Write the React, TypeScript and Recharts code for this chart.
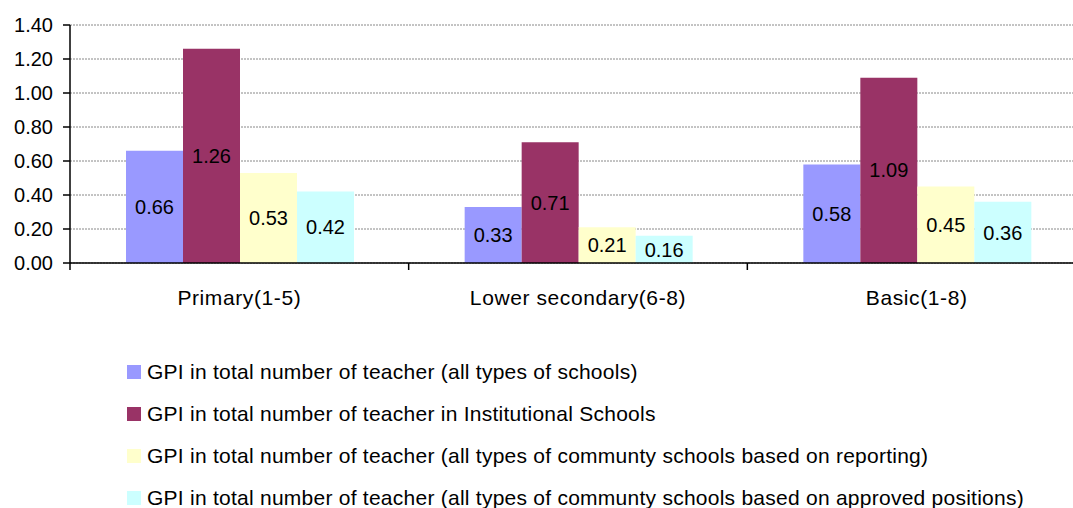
import { BarChart, Bar, XAxis, YAxis, CartesianGrid, Legend, LabelList } from 'recharts';

const CATEGORIES = ['Primary(1-5)', 'Lower secondary(6-8)', 'Basic(1-8)'];

const ALL_SCHOOLS = [0.66, 0.33, 0.58];
const INSTITUTIONAL = [1.26, 0.71, 1.09];
const COMMUNITY_REPORTING = [0.53, 0.21, 0.45];
const COMMUNITY_APPROVED = [0.42, 0.16, 0.36];

const Y_TICKS = [0, 0.2, 0.4, 0.6, 0.8, 1.0, 1.2, 1.4];

const SERIES = [
  { key: 'all', name: 'GPI in total number of teacher (all types of schools)', color: '#9999FF', values: ALL_SCHOOLS },
  { key: 'inst', name: 'GPI in total number of teacher in Institutional Schools', color: '#993366', values: INSTITUTIONAL },
  { key: 'rep', name: 'GPI in total number of teacher (all types of communty schools based on reporting)', color: '#FFFFCC', values: COMMUNITY_REPORTING },
  { key: 'app', name: 'GPI in total number of teacher (all types of communty schools based on approved positions)', color: '#CCFFFF', values: COMMUNITY_APPROVED },
];

const chartData = CATEGORIES.map((category, i) => {
  const row: Record<string, string | number> = { category };
  SERIES.forEach((s) => {
    row[s.key] = s.values[i];
  });
  return row;
});

const FONT = '"Liberation Sans", Arial, sans-serif';
const X_TICK_SIZE = 7;
const X_TICK_MARGIN = 20;

// category label plus the separator marks that sit between categories
function CategoryTick(props: any) {
  const { x, y, payload, index, width, visibleTicksCount } = props;
  const half = width / (visibleTicksCount * 2);
  const axisY = y - X_TICK_SIZE - X_TICK_MARGIN;
  const isLast = index === visibleTicksCount - 1;
  return (
    <g>
      <line x1={x - half} x2={x - half} y1={axisY} y2={axisY + X_TICK_SIZE} stroke="#000" strokeWidth={1.5} />
      {isLast && <line x1={x + half} x2={x + half} y1={axisY} y2={axisY + X_TICK_SIZE} stroke="#000" strokeWidth={1.5} />}
      <text
        x={x}
        y={y}
        dy="0.71em"
        textAnchor="middle"
        fill="#000"
        style={{ fontSize: 21, fontFamily: FONT, letterSpacing: 0.6 }}
      >
        {payload.value}
      </text>
    </g>
  );
}

function LegendBox() {
  return (
    <div
      style={{
        boxSizing: 'border-box',
        height: 160,
        paddingLeft: 127,
        paddingTop: 3,
        fontFamily: FONT,
        fontSize: 21,
        letterSpacing: 0.25,
        color: '#000',
      }}
    >
      {SERIES.map((s) => (
        <div key={s.key} style={{ height: 42, display: 'flex', alignItems: 'center', whiteSpace: 'nowrap' }}>
          <span style={{ width: 14, height: 14, background: s.color, display: 'inline-block', marginRight: 6, flex: 'none' }} />
          {s.name}
        </div>
      ))}
    </div>
  );
}

export default function App() {
  return (
    <div style={{ position: 'fixed', left: 0, top: 0, width: 1073, height: 508, overflow: 'hidden', background: '#fff' }}>
      <BarChart
        width={1100}
        height={508}
        data={chartData}
        margin={{ top: 25, right: 14, bottom: 0, left: 0 }}
        barCategoryGap={56}
        barGap={0}
      >
        <CartesianGrid vertical={false} stroke="#888" strokeDasharray="2 1" />
        <XAxis
          dataKey="category"
          axisLine={{ stroke: '#000', strokeWidth: 1.5 }}
          tickLine={false}
          tickSize={X_TICK_SIZE}
          tickMargin={X_TICK_MARGIN}
          height={85}
          interval={0}
          tick={<CategoryTick />}
        />
        <YAxis
          domain={[0, 1.4]}
          ticks={Y_TICKS}
          width={70}
          tickFormatter={(v: number) => v.toFixed(2)}
          axisLine={{ stroke: '#000', strokeWidth: 1.5 }}
          tickLine={{ stroke: '#000', strokeWidth: 1.5 }}
          tickSize={7}
          tickMargin={10}
          tick={{ fill: '#000', fontSize: 20, fontFamily: FONT }}
        />
        <Legend verticalAlign="bottom" align="left" content={() => <LegendBox />} wrapperStyle={{ left: 0, width: 1100 }} />
        {SERIES.map((s) => (
          <Bar key={s.key} dataKey={s.key} name={s.name} fill={s.color} isAnimationActive={false}>
            <LabelList
              dataKey={s.key}
              position="center"
              formatter={(v: number) => v.toFixed(2)}
              style={{ fill: '#000', fontSize: 20, fontFamily: FONT }}
            />
          </Bar>
        ))}
      </BarChart>
    </div>
  );
}
